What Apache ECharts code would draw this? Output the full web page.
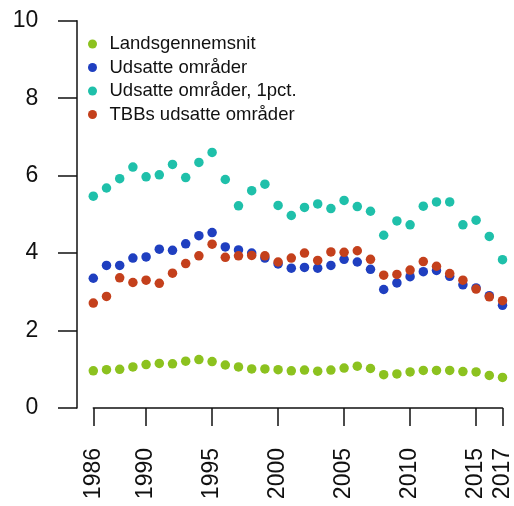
<!DOCTYPE html>
<html>
<head>
<meta charset="utf-8">
<script src="https://cdn.jsdelivr.net/npm/echarts@6/dist/echarts.min.js"></script>
<style>
html,body{margin:0;padding:0;background:#fff;}
#chart{width:514px;height:506px;}
</style>
</head>
<body>
<div id="chart"></div>
<script>
var years = [1986,1987,1988,1989,1990,1991,1992,1993,1994,1995,1996,1997,1998,1999,2000,2001,2002,2003,2004,2005,2006,2007,2008,2009,2010,2011,2012,2013,2014,2015,2016,2017];
var seriesNames = ["Landsgennemsnit","Udsatte områder","Udsatte områder, 1pct.","TBBs udsatte områder"];
var landsgennemsnit = [0.96,0.99,1.00,1.06,1.12,1.15,1.14,1.21,1.25,1.20,1.11,1.06,1.01,1.01,0.99,0.96,0.98,0.95,0.98,1.03,1.08,1.02,0.86,0.88,0.93,0.97,0.97,0.97,0.94,0.93,0.84,0.79];
var udsatte = [3.35,3.68,3.68,3.87,3.90,4.10,4.07,4.24,4.45,4.53,4.16,4.08,4.00,3.87,3.72,3.61,3.63,3.61,3.68,3.84,3.77,3.58,3.06,3.23,3.39,3.52,3.55,3.40,3.18,3.10,2.90,2.65];
var udsatte1pct = [5.47,5.68,5.92,6.22,5.97,6.02,6.29,5.95,6.34,6.60,5.90,5.22,5.61,5.78,5.23,4.97,5.18,5.27,5.15,5.36,5.20,5.08,4.46,4.83,4.73,5.21,5.32,5.32,4.73,4.85,4.43,3.83];
var tbbUdsatte = [2.71,2.88,3.36,3.24,3.30,3.22,3.48,3.73,3.93,4.23,3.89,3.93,3.94,3.93,3.77,3.87,4.00,3.81,4.03,4.02,4.06,3.84,3.43,3.45,3.56,3.78,3.66,3.47,3.30,3.07,2.87,2.77];
var xTickYears = [1986,1990,1995,2000,2005,2010,2015,2017];
var yTicks = [0,2,4,6,8,10];

var colors = ["#8CC21F","#1F3FC0","#1FC0AA","#C4401C"];
var allData = [landsgennemsnit, udsatte, udsatte1pct, tbbUdsatte];

function pairs(vals){ return years.map(function(y,i){ return [y, vals[i]]; }); }

var chart = echarts.init(document.getElementById('chart'), null, {renderer:'canvas'});
var font = "'Liberation Sans', Arial, sans-serif";
chart.setOption({
  animation:false,
  backgroundColor:'#fff',
  grid:{left:93.3, right:11.3, top:20.7, bottom:98, containLabel:false},
  legend:{
    show:true, orient:'vertical', left:83, top:29,
    icon:'circle', itemWidth:24, itemHeight:9, itemGap:3.5,
    textStyle:{fontFamily:font, fontSize:18.5, color:'#111', lineHeight:20},
    data:seriesNames
  },
  xAxis:{
    type:'value', min:1986, max:2017, offset:3,
    splitLine:{show:false},
    axisLine:{show:true, lineStyle:{color:'#111', width:1.5}},
    axisTick:{show:true, length:18, customValues:xTickYears, lineStyle:{color:'#111', width:1.5}},
    axisLabel:{show:true, customValues:xTickYears, rotate:90, margin:37, fontFamily:font, fontSize:23, color:'#111',
      formatter:function(v){ return String(v); }}
  },
  yAxis:{
    type:'value', min:yTicks[0], max:yTicks[yTicks.length-1], interval:2, offset:16.3,
    splitLine:{show:false},
    axisLine:{show:true, lineStyle:{color:'#111', width:1.5}},
    axisTick:{show:true, length:19, lineStyle:{color:'#111', width:1.5}},
    axisLabel:{show:true, margin:38.7, fontFamily:font, fontSize:23, color:'#111'}
  },
  series: seriesNames.map(function(n,i){
    return {name:n, type:'scatter', data:pairs(allData[i]), symbol:'circle', symbolSize:9.5, clip:false,
      itemStyle:{color:colors[i], opacity:1}, emphasis:{disabled:true}};
  })
});
</script>
</body>
</html>
